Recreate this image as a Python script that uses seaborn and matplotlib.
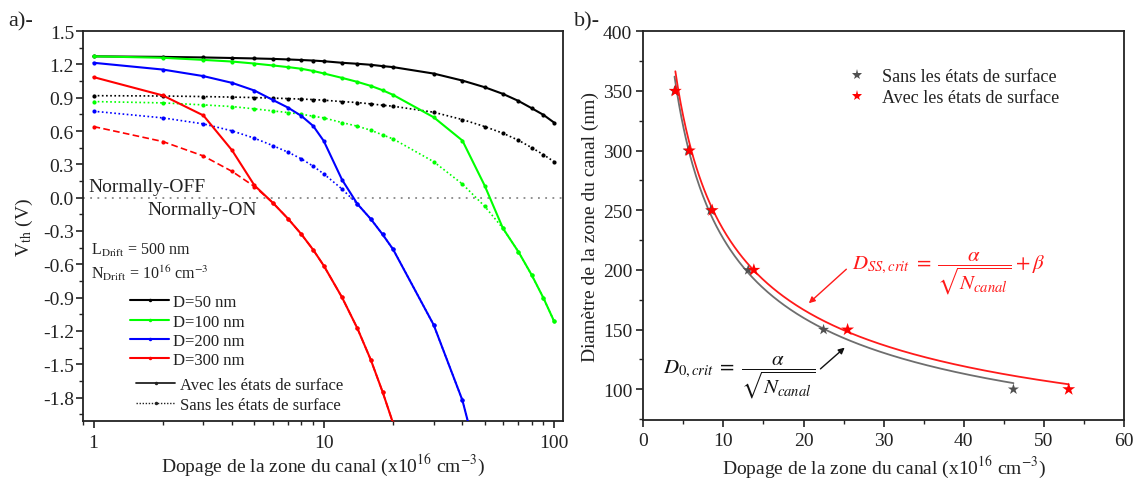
import numpy as np
import matplotlib
matplotlib.use("Agg")
import matplotlib.pyplot as plt
import seaborn as sns
from matplotlib.lines import Line2D
from matplotlib.ticker import (MultipleLocator, AutoMinorLocator, FixedLocator,
                               FixedFormatter, NullFormatter, LogLocator)

# ---------------- data: panel a) threshold voltage vs channel doping ----------------
doping = [1, 2, 3, 4, 5, 6, 7, 8, 9, 10, 12, 14, 16, 18, 20, 30, 40, 50, 60, 70, 80, 90, 100]

# with surface states (solid)
vth_d50_ss = [1.272, 1.267, 1.262, 1.257, 1.253, 1.249, 1.244, 1.239, 1.234, 1.228, 1.214, 1.205,
              1.196, 1.184, 1.175, 1.117, 1.054, 0.994, 0.934, 0.871, 0.805, 0.745, 0.676]
vth_d100_ss = [1.272, 1.259, 1.240, 1.225, 1.207, 1.190, 1.175, 1.160, 1.140, 1.118, 1.078, 1.042,
               1.006, 0.967, 0.925, 0.724, 0.514, 0.108, -0.276, -0.486, -0.696, -0.904, -1.111]
vth_d200_ss = [1.214, 1.153, 1.094, 1.033, 0.964, 0.880, 0.810, 0.735, 0.645, 0.510, 0.162, -0.057,
               -0.192, -0.330, -0.465, -1.144, -1.823, -2.600]
vth_d300_ss = [1.085, 0.920, 0.740, 0.425, 0.110, -0.045, -0.190, -0.330, -0.470, -0.612, -0.897,
               -1.177, -1.459, -1.747, -2.030]

# without surface states (dotted / dashed)
vth_d50_0 = [0.918, 0.915, 0.910, 0.905, 0.901, 0.896, 0.892, 0.887, 0.883, 0.877, 0.865, 0.856,
             0.844, 0.832, 0.823, 0.769, 0.703, 0.640, 0.580, 0.517, 0.450, 0.387, 0.324]
vth_d100_0 = [0.865, 0.853, 0.835, 0.820, 0.799, 0.781, 0.766, 0.751, 0.733, 0.718, 0.676, 0.643,
              0.607, 0.565, 0.529, 0.324, 0.123, -0.078, -0.276, -0.486, -0.696, -0.904, -1.111]
vth_d200_0 = [0.778, 0.718, 0.664, 0.601, 0.535, 0.469, 0.409, 0.349, 0.283, 0.214, 0.078, -0.057,
              -0.192, -0.330, -0.465, -1.144, -1.823, -2.600]
vth_d300_0 = [0.640, 0.505, 0.375, 0.236, 0.100, -0.045, -0.190, -0.330, -0.470, -0.612, -0.897,
              -1.177, -1.459, -1.747, -2.030]

diam_labels = ["D=50 nm", "D=100 nm", "D=200 nm", "D=300 nm"]
diam_colors = ["#000000", "#00ff00", "#0000ff", "#ff0000"]

# ---------------- data: panel b) critical diameter vs channel doping ----------------
diam_crit = [350, 300, 250, 200, 150, 100]
n_crit_0 = [3.9, 5.6, 8.4, 13.1, 22.5, 46.2]      # without surface states
n_crit_ss = [4.0, 5.75, 8.6, 13.8, 25.5, 53.1]    # with surface states
alpha_0 = 715.0                                   # D0 = alpha / sqrt(N)
alpha_ss, beta_ss = 723.0, 5.0                    # Dss = alpha / sqrt(N) + beta

# ---------------- style ----------------
sns.set_theme(style="ticks")
plt.rcParams.update({
    "font.family": ["Liberation Serif", "DejaVu Serif"],
    "mathtext.fontset": "stix",
    "axes.unicode_minus": False,
    "axes.edgecolor": "#222222",
    "axes.linewidth": 1.3,
    "xtick.color": "#222222",
    "ytick.color": "#222222",
    "text.color": "#222222",
    "axes.labelcolor": "#222222",
})

fig = plt.figure(figsize=(11.35, 4.89), dpi=100)
axA = fig.add_axes([83 / 1135, 1 - 422 / 489, 480 / 1135, 390 / 489])
axB = fig.add_axes([643.3 / 1135, 1 - 421 / 489, 480.7 / 1135, 388.7 / 489])

# ---------------- panel a ----------------
axA.axhline(0, color="#888888", lw=1.3, ls=(0, (1, 3)), zorder=1)

no_ss = [vth_d50_0, vth_d100_0, vth_d200_0, vth_d300_0]
with_ss = [vth_d50_ss, vth_d100_ss, vth_d200_ss, vth_d300_ss]
no_ss_styles = [(0, (1, 1.5)), (0, (1, 1.5)), (0, (1, 1.5)), (0, (4, 2))]

for vals, col, ls in zip(no_ss, diam_colors, no_ss_styles):
    sns.lineplot(x=doping[:len(vals)], y=vals, ax=axA, color=col, linestyle=ls, lw=1.2,
                 marker="o", markersize=3, markeredgewidth=0, sort=False, zorder=2)
for vals, col in zip(with_ss, diam_colors):
    sns.lineplot(x=doping[:len(vals)], y=vals, ax=axA, color=col, linestyle="-", lw=1.5,
                 marker="o", markersize=3, markeredgewidth=0, sort=False, zorder=3)

axA.set_xscale("log")
axA.set_xlim(0.9, 109.4)
axA.set_ylim(-2.01, 1.5)
axA.xaxis.set_major_locator(FixedLocator([1, 10, 100]))
axA.xaxis.set_major_formatter(FixedFormatter(["1", "10", "100"]))
axA.xaxis.set_minor_locator(LogLocator(base=10, subs=np.arange(2, 10)))
axA.xaxis.set_minor_formatter(NullFormatter())
axA.yaxis.set_major_locator(MultipleLocator(0.3))
axA.yaxis.set_major_formatter(plt.FuncFormatter(lambda v, p: f"{v:.1f}"))
axA.yaxis.set_minor_locator(AutoMinorLocator(2))
axA.tick_params(which="major", direction="out", length=5, width=1.2, labelsize=14)
axA.tick_params(axis="y", which="major", pad=1.5)
axA.tick_params(axis="x", which="major", pad=4)
axA.tick_params(which="minor", direction="out", length=3, width=1.0)
for s in axA.spines.values():
    s.set_visible(True)

axA.set_xlabel(r"Dopage de la zone du canal (x10$^{16}$ cm$^{-3}$)", fontsize=14, labelpad=1)
axA.set_ylabel(r"V$_{\rm th}$ (V)", fontsize=14, labelpad=6)

axA.text(0.012, 0.1, "Normally-OFF", transform=axA.get_yaxis_transform(), fontsize=14,
         va="center", ha="left")
axA.text(0.135, -0.105, "Normally-ON", transform=axA.get_yaxis_transform(), fontsize=14,
         va="center", ha="left")
axA.text(0.017, 0.439, r"L$_{\rm Drift}$ = 500 nm", transform=axA.transAxes, fontsize=11.5,
         va="center", ha="left")
axA.text(0.017, 0.382, r"N$_{\rm Drift}$ = 10$^{16}$ cm$^{-3}$", transform=axA.transAxes,
         fontsize=11.5, va="center", ha="left")

h1 = [Line2D([], [], color=c, lw=1.5, marker="o", markersize=2.5, markeredgewidth=0)
      for c in diam_colors]
leg1 = axA.legend(h1, diam_labels, loc="upper left", bbox_to_anchor=(0.098, 0.325),
                  frameon=False, fontsize=12, handlelength=2.35, handletextpad=0.2,
                  labelspacing=0.2, borderpad=0, borderaxespad=0, numpoints=1)
axA.add_artist(leg1)
h2 = [Line2D([], [], color="#222222", lw=1.3, ls="-", marker="o", markersize=2.5, markeredgewidth=0),
      Line2D([], [], color="#222222", lw=1.0, ls=(0, (1, 1.2)), marker="o", markersize=2.5,
             markeredgewidth=0)]
axA.legend(h2, ["Avec les états de surface", "Sans les états de surface"], loc="upper left",
           bbox_to_anchor=(0.111, 0.112), frameon=False, fontsize=12, handlelength=2.35,
           handletextpad=0.25, labelspacing=0.2, borderpad=0, borderaxespad=0, numpoints=1)

fig.text(0.007, 0.955, "a)-", fontsize=16, va="center", ha="left")

# ---------------- panel b ----------------
fit_x0 = np.linspace(min(n_crit_0), max(n_crit_0), 300)
fit_xs = np.linspace(min(n_crit_ss), max(n_crit_ss), 300)
sns.lineplot(x=fit_x0, y=alpha_0 / np.sqrt(fit_x0), ax=axB, color="#6e6e6e", lw=1.3, zorder=2)
sns.lineplot(x=fit_xs, y=alpha_ss / np.sqrt(fit_xs) + beta_ss, ax=axB, color="#ff1a1a", lw=1.3,
             zorder=3)
sns.scatterplot(x=n_crit_0, y=diam_crit, ax=axB, marker="*", s=70, color="#505050",
                edgecolor="none", zorder=4)
sns.scatterplot(x=n_crit_ss, y=diam_crit, ax=axB, marker="*", s=95, color="#ff0000",
                edgecolor="none", zorder=5)

axB.set_xlim(0, 60)
axB.set_ylim(74.3, 400)
axB.xaxis.set_major_locator(MultipleLocator(10))
axB.xaxis.set_minor_locator(MultipleLocator(5))
axB.yaxis.set_major_locator(MultipleLocator(50))
axB.yaxis.set_minor_locator(MultipleLocator(25))
axB.tick_params(which="major", direction="out", length=5, width=1.2, labelsize=14, pad=3)
axB.tick_params(axis="x", which="major", pad=4)
axB.tick_params(which="minor", direction="out", length=3, width=1.0)
for s in axB.spines.values():
    s.set_visible(True)

axB.set_xlabel(r"Dopage de la zone du canal (x10$^{16}$ cm$^{-3}$)", fontsize=14, labelpad=2.5)
axB.set_ylabel("Diamètre de la zone du canal (nm)", fontsize=14, labelpad=3)

hb = [Line2D([], [], ls="none", marker="*", markersize=8, color="#505050", markeredgewidth=0),
      Line2D([], [], ls="none", marker="*", markersize=8, color="#ff0000", markeredgewidth=0)]
axB.legend(hb, ["Sans les états de surface", "Avec les états de surface"], loc="upper left",
           bbox_to_anchor=(0.425, 0.905), frameon=False, fontsize=13, handlelength=1.0,
           handletextpad=0.9, labelspacing=0.2, borderpad=0, borderaxespad=0)

axB.text(26.0, 197.5, r"$D_{SS,crit}\;=\;\dfrac{\alpha}{\sqrt{N_{canal}}}+\beta$", color="#ff1a1a",
         fontsize=15, va="center", ha="left")
axB.annotate("", xy=(20.4, 170.6), xytext=(25.6, 202.2),
             arrowprops=dict(arrowstyle="-|>", color="#ff1a1a", lw=1.0, mutation_scale=9))
axB.text(2.4, 111.0, r"$D_{0,crit}\;=\;\dfrac{\alpha}{\sqrt{N_{canal}}}$", color="#111111",
         fontsize=15, va="center", ha="left")
axB.annotate("", xy=(25.4, 136.5), xytext=(21.85, 115.6),
             arrowprops=dict(arrowstyle="-|>", color="#111111", lw=1.0, mutation_scale=9))

fig.text(0.506, 0.955, "b)-", fontsize=16, va="center", ha="left")

fig.savefig("out.png", dpi=100)
